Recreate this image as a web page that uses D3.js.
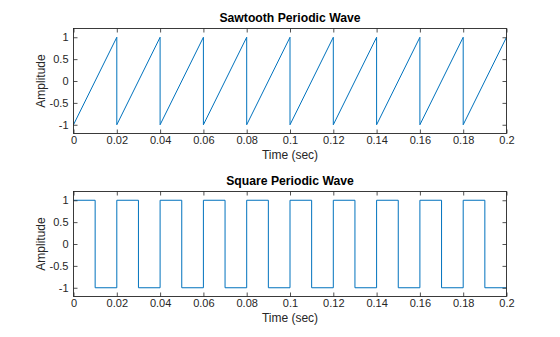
<!DOCTYPE html>
<html>
<head>
<meta charset="utf-8">
<script src="https://cdn.jsdelivr.net/npm/d3@7"></script>
<style>
  html, body { margin: 0; padding: 0; background: #fff; }
  svg { display: block; font-family: "Liberation Sans", Arial, Helvetica, sans-serif; }
</style>
</head>
<body>
<svg id="chart" width="560" height="337"></svg>
<script>
// ---- data ----
const sawTime = [0, 0.02, 0.02, 0.04, 0.04, 0.06, 0.06, 0.08, 0.08, 0.10, 0.10,
                 0.12, 0.12, 0.14, 0.14, 0.16, 0.16, 0.18, 0.18, 0.20];
const sawAmp  = [-1, 1, -1, 1, -1, 1, -1, 1, -1, 1, -1,
                 1, -1, 1, -1, 1, -1, 1, -1, 1];

const squareTime = [0, 0.01, 0.01, 0.02, 0.02, 0.03, 0.03, 0.04, 0.04, 0.05, 0.05,
                    0.06, 0.06, 0.07, 0.07, 0.08, 0.08, 0.09, 0.09, 0.10, 0.10,
                    0.11, 0.11, 0.12, 0.12, 0.13, 0.13, 0.14, 0.14, 0.15, 0.15,
                    0.16, 0.16, 0.17, 0.17, 0.18, 0.18, 0.19, 0.19, 0.20];
const squareAmp  = [1, 1, -1, -1, 1, 1, -1, -1, 1, 1, -1,
                    -1, 1, 1, -1, -1, 1, 1, -1, -1, 1,
                    1, -1, -1, 1, 1, -1, -1, 1, 1, -1,
                    -1, 1, 1, -1, -1, 1, 1, -1, -1];

const xTicks = [0, 0.02, 0.04, 0.06, 0.08, 0.1, 0.12, 0.14, 0.16, 0.18, 0.2];
const xTickLabels = ["0", "0.02", "0.04", "0.06", "0.08", "0.1", "0.12", "0.14", "0.16", "0.18", "0.2"];
const yTicks = [-1, -0.5, 0, 0.5, 1];
const yTickLabels = ["-1", "-0.5", "0", "0.5", "1"];

const titles = ["Sawtooth Periodic Wave", "Square Periodic Wave"];
const xLabel = "Time (sec)";
const yLabel = "Amplitude";
</script>
<script>
const svg = d3.select("#chart");
const axColor = "#262626";
const lineColor = "#0072BD";
const left = 73.5, right = 506.5;

const panels = [
  { top: 28.5, bottom: 133.5, t: sawTime, y: sawAmp, title: titles[0] },
  { top: 191.5, bottom: 296.5, t: squareTime, y: squareAmp, title: titles[1] }
];

panels.forEach(p => {
  const x = d3.scaleLinear().domain([0, 0.2]).range([left, right]);
  const y = d3.scaleLinear().domain([-1.2, 1.2]).range([p.bottom, p.top]);
  const g = svg.append("g");

  const pts = p.t.map((tv, i) => [tv, p.y[i]]);
  g.append("path")
    .datum(pts)
    .attr("fill", "none")
    .attr("stroke", lineColor)
    .attr("stroke-width", 1)
    .attr("d", d3.line().x(d => x(d[0])).y(d => y(d[1])));

  const fmtX = d => xTickLabels[xTicks.indexOf(d)];
  const fmtY = d => yTickLabels[yTicks.indexOf(d)];

  const gb = g.append("g").attr("transform", `translate(0,${p.bottom})`)
    .call(d3.axisBottom(x).tickValues(xTicks).tickFormat(fmtX).tickSizeInner(-4).tickSizeOuter(0).tickPadding(3));
  const gt = g.append("g").attr("transform", `translate(0,${p.top})`)
    .call(d3.axisTop(x).tickValues(xTicks).tickFormat("").tickSizeInner(-4).tickSizeOuter(0));
  const gl = g.append("g").attr("transform", `translate(${left},0)`)
    .call(d3.axisLeft(y).tickValues(yTicks).tickFormat(fmtY).tickSizeInner(-4).tickSizeOuter(0).tickPadding(5));
  const gr = g.append("g").attr("transform", `translate(${right},0)`)
    .call(d3.axisRight(y).tickValues(yTicks).tickFormat("").tickSizeInner(-4).tickSizeOuter(0));

  [gb, gt, gl, gr].forEach(a => {
    a.select(".domain").remove();
    a.selectAll("line").attr("stroke", axColor).attr("stroke-width", 0.8);
    a.selectAll("text").attr("fill", axColor).style("font-size", "11px")
      .style("font-family", '"Liberation Sans", Arial, sans-serif');
  });

  g.append("rect")
    .attr("x", left).attr("y", p.top)
    .attr("width", right - left).attr("height", p.bottom - p.top)
    .attr("fill", "none").attr("stroke", axColor).attr("stroke-width", 0.9);

  g.append("text")
    .attr("x", (left + right) / 2).attr("y", p.top - 6.5)
    .attr("text-anchor", "middle")
    .attr("font-weight", "bold").attr("font-size", "12.2px")
    .attr("fill", "#000")
    .text(p.title);

  g.append("text")
    .attr("x", (left + right) / 2).attr("y", p.bottom + 25.5)
    .attr("text-anchor", "middle")
    .attr("font-size", "12px").attr("fill", axColor)
    .text(xLabel);

  g.append("text")
    .attr("transform", `translate(44.5,${(p.top + p.bottom) / 2}) rotate(-90)`)
    .attr("text-anchor", "middle")
    .attr("font-size", "12px").attr("fill", axColor)
    .text(yLabel);
});
</script>
</body>
</html>
